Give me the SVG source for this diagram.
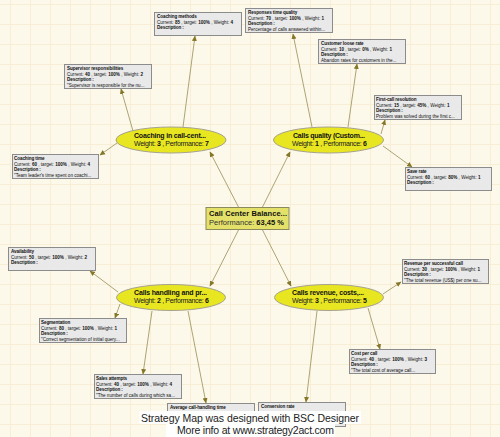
<svg xmlns="http://www.w3.org/2000/svg" width="500" height="437" viewBox="0 0 500 437">
<defs>
<pattern id="grid" x="10" y="4" width="20" height="20" patternUnits="userSpaceOnUse">
<path d="M0 0.5H20M0.5 0V20" fill="none" stroke="#f8eed6" stroke-width="1"/>
</pattern>
<marker id="arr" markerWidth="6" markerHeight="6" refX="5" refY="3" orient="auto" markerUnits="userSpaceOnUse">
<path d="M0 0.5L5.5 3L0 5.5Z" fill="#857628"/>
</marker>
<style>
.kpi rect{fill:#e9e9e9;stroke:#8c8c8c;stroke-width:1}
.kpi text{font-family:"Liberation Sans",Arial,sans-serif;font-size:4.6px;fill:#111}
.kpi .t{font-weight:bold;letter-spacing:-0.1px}
.b{font-weight:bold}
.obj ellipse{fill:#e8e620;stroke:#a5a290;stroke-width:1}
.obj text{font-family:"Liberation Sans",Arial,sans-serif;font-size:7px;fill:#222}
.obj .h{font-weight:bold;fill:#111}
.conn line{stroke:#a39a67;stroke-width:0.9;marker-end:url(#arr)}
.foot{font-family:"Liberation Sans",Arial,sans-serif;font-size:10.5px;fill:#222}
</style>
</defs>
<rect width="500" height="437" fill="#fdf9ea"/>
<rect width="500" height="437" fill="url(#grid)"/>

<g id="connectors" class="conn">
<line x1="239" y1="208" x2="210" y2="152"/>
<line x1="262" y1="208" x2="290" y2="152"/>
<line x1="239" y1="229" x2="210" y2="286"/>
<line x1="262" y1="229" x2="291" y2="286"/>
<line x1="183" y1="127" x2="195" y2="36"/>
<line x1="133" y1="131" x2="121" y2="89"/>
<line x1="117" y1="143" x2="100" y2="155"/>
<line x1="312" y1="127" x2="293" y2="34"/>
<line x1="348" y1="127" x2="357" y2="64"/>
<line x1="381" y1="134" x2="385" y2="120"/>
<line x1="383" y1="146" x2="412" y2="167"/>
<line x1="118" y1="292" x2="90" y2="271"/>
<line x1="120" y1="304" x2="115" y2="318"/>
<line x1="152" y1="311" x2="143" y2="374"/>
<line x1="188" y1="311" x2="206" y2="403"/>
<line x1="383" y1="294" x2="401" y2="282"/>
<line x1="368" y1="308" x2="380" y2="349"/>
<line x1="317" y1="311" x2="306" y2="402"/>
</g>

<g id="center">
<rect x="206" y="207.5" width="83" height="22" fill="#e3e16a" stroke="#8c8a5a" stroke-width="1"/>
<text x="209" y="216" font-family="Liberation Sans,Arial,sans-serif" font-size="7.5" font-weight="bold" fill="#111" textLength="78">Call  Center  Balance...</text>
<text x="209" y="225" font-family="Liberation Sans,Arial,sans-serif" font-size="7.5" fill="#333" textLength="75">Performance:  <tspan class="b" fill="#111">63,45 %</tspan></text>
</g>

<g id="obj-coaching" class="obj">
<ellipse cx="171" cy="140" rx="55" ry="13"/>
<text class="h" x="134" y="137.5" textLength="72">Coaching  in  call-cent...</text>
<text x="134" y="145.5" textLength="75">Weight: <tspan class="h">3</tspan> , Performance: <tspan class="h">7</tspan></text>
</g>
<g id="obj-quality" class="obj">
<ellipse cx="328.5" cy="140" rx="55" ry="13"/>
<text class="h" x="293" y="137.5" textLength="72">Calls  quality  (Custom...</text>
<text x="292" y="145.5" textLength="75">Weight: <tspan class="h">1</tspan> , Performance: <tspan class="h">6</tspan></text>
</g>
<g id="obj-handling" class="obj">
<ellipse cx="171" cy="297.5" rx="54.5" ry="13"/>
<text class="h" x="134" y="295" textLength="73">Calls  handling  and  pr...</text>
<text x="134" y="303" textLength="75">Weight: <tspan class="h">2</tspan> , Performance: <tspan class="h">6</tspan></text>
</g>
<g id="obj-revenue" class="obj">
<ellipse cx="329" cy="297.5" rx="54.5" ry="13"/>
<text class="h" x="292" y="295" textLength="72">Calls  revenue,  costs,...</text>
<text x="292" y="303" textLength="75">Weight: <tspan class="h">3</tspan> , Performance: <tspan class="h">5</tspan></text>
</g>

<g id="kpi-coaching-methods" class="kpi">
<rect x="154.5" y="12.5" width="87" height="23"/>
<text class="t" x="157" y="18">Coaching methods</text>
<text x="157" y="23.5">Current: <tspan class="b">85</tspan> , target: <tspan class="b">100%</tspan> , Weight: <tspan class="b">4</tspan></text>
<text class="t" x="157" y="29">Description :</text>
</g>
<g id="kpi-supervisor" class="kpi">
<rect x="64.5" y="64.5" width="87" height="24"/>
<text class="t" x="67" y="70">Supervisor responsibilities</text>
<text x="67" y="75.5">Current: <tspan class="b">40</tspan> , target: <tspan class="b">100%</tspan> , Weight: <tspan class="b">2</tspan></text>
<text class="t" x="67" y="81">Description :</text>
<text x="67" y="86.5">"Supervisor is responsible for the nu...</text>
</g>
<g id="kpi-coaching-time" class="kpi">
<rect x="12.5" y="154.5" width="86" height="24"/>
<text class="t" x="14" y="160">Coaching time</text>
<text x="14" y="165.5">Current: <tspan class="b">60</tspan> , target: <tspan class="b">100%</tspan> , Weight: <tspan class="b">4</tspan></text>
<text class="t" x="14" y="171">Description :</text>
<text x="14" y="176.5">"Team leader's time spent on coachi...</text>
</g>
<g id="kpi-response" class="kpi">
<rect x="245.5" y="8.5" width="87" height="24"/>
<text class="t" x="248" y="14">Responses time quality</text>
<text x="248" y="19.5">Current: <tspan class="b">70</tspan> , target: <tspan class="b">100%</tspan> , Weight: <tspan class="b">1</tspan></text>
<text class="t" x="248" y="25">Description :</text>
<text x="248" y="30.5">Percentage of calls answered within...</text>
</g>
<g id="kpi-loose" class="kpi">
<rect x="318.5" y="39.5" width="87" height="24"/>
<text class="t" x="321" y="45">Customer loose rate</text>
<text x="321" y="50.5">Current: <tspan class="b">10</tspan> , target: <tspan class="b">0%</tspan> , Weight: <tspan class="b">1</tspan></text>
<text class="t" x="321" y="56">Description :</text>
<text x="321" y="61.5">Abandon rates for customers in the...</text>
</g>
<g id="kpi-first-call" class="kpi">
<rect x="374.5" y="95.5" width="87" height="24"/>
<text class="t" x="376" y="101">First-call resolution</text>
<text x="376" y="106.5">Current: <tspan class="b">15</tspan> , target: <tspan class="b">45%</tspan> , Weight: <tspan class="b">1</tspan></text>
<text class="t" x="376" y="112">Description :</text>
<text x="376" y="117.5">Problem was solved during the first c...</text>
</g>
<g id="kpi-save" class="kpi">
<rect x="405.5" y="167.5" width="86" height="23"/>
<text class="t" x="407" y="173">Save rate</text>
<text x="407" y="178.5">Current: <tspan class="b">60</tspan> , target: <tspan class="b">80%</tspan> , Weight: <tspan class="b">1</tspan></text>
<text class="t" x="407" y="184">Description :</text>
</g>
<g id="kpi-availability" class="kpi">
<rect x="8.5" y="247.5" width="87" height="23"/>
<text class="t" x="11" y="253">Availability</text>
<text x="11" y="258.5">Current: <tspan class="b">50</tspan> , target: <tspan class="b">100%</tspan> , Weight: <tspan class="b">2</tspan></text>
<text class="t" x="11" y="264">Description :</text>
</g>
<g id="kpi-segmentation" class="kpi">
<rect x="39.5" y="318.5" width="87" height="24"/>
<text class="t" x="41" y="324">Segmentation</text>
<text x="41" y="329.5">Current: <tspan class="b">80</tspan> , target: <tspan class="b">100%</tspan> , Weight: <tspan class="b">1</tspan></text>
<text class="t" x="41" y="335">Description :</text>
<text x="41" y="340.5">"Correct segmentation of initial query...</text>
</g>
<g id="kpi-sales" class="kpi">
<rect x="94.5" y="374.5" width="87" height="24"/>
<text class="t" x="96" y="380">Sales attempts</text>
<text x="96" y="385.5">Current: <tspan class="b">40</tspan> , target: <tspan class="b">100%</tspan> , Weight: <tspan class="b">4</tspan></text>
<text class="t" x="96" y="391">Description :</text>
<text x="96" y="396.5">"The number of calls during which sa...</text>
</g>
<g id="kpi-average" class="kpi">
<rect x="167.5" y="403.5" width="87" height="24"/>
<text class="t" x="170" y="409">Average call-handling time</text>
</g>
<g id="kpi-conversion" class="kpi">
<rect x="258.5" y="402.5" width="87" height="24"/>
<text class="t" x="261" y="408">Conversion rate</text>
</g>
<g id="kpi-revenue-call" class="kpi">
<rect x="402.5" y="259.5" width="86" height="24"/>
<text class="t" x="404" y="265">Revenue per successful call</text>
<text x="404" y="270.5">Current: <tspan class="b">30</tspan> , target: <tspan class="b">100%</tspan> , Weight: <tspan class="b">1</tspan></text>
<text class="t" x="404" y="276">Description :</text>
<text x="404" y="281.5">"The total revenue (US$) per one su...</text>
</g>
<g id="kpi-cost" class="kpi">
<rect x="349.5" y="349.5" width="86" height="24"/>
<text class="t" x="351" y="355">Cost per call</text>
<text x="351" y="360.5">Current: <tspan class="b">40</tspan> , target: <tspan class="b">100%</tspan> , Weight: <tspan class="b">3</tspan></text>
<text class="t" x="351" y="366">Description :</text>
<text x="351" y="371.5">"The total cost of average call...</text>
</g>

<g id="footer">
<rect x="139" y="411" width="222" height="13" fill="#fff"/>
<rect x="166" y="424" width="169" height="13" fill="#fff"/>
<text class="foot" x="141" y="421.5" textLength="218">Strategy Map was designed with BSC Designer</text>
<text class="foot" x="177" y="434" textLength="157">More info at www.strategy2act.com</text>
</g>
</svg>
